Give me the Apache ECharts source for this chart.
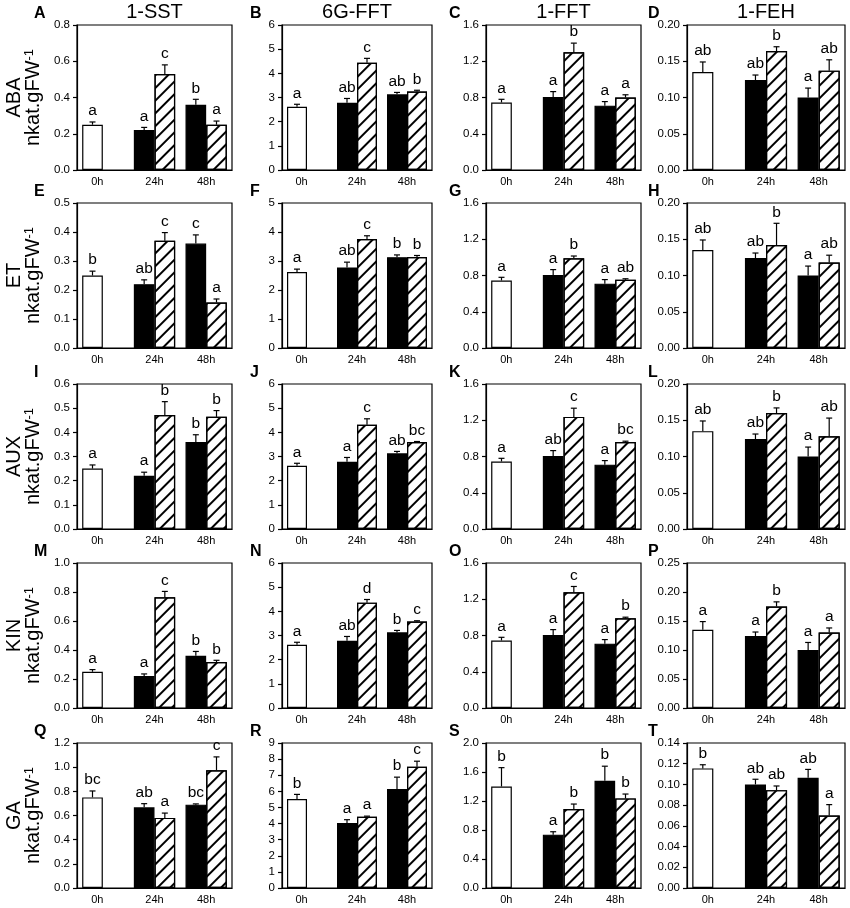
<!DOCTYPE html>
<html>
<head>
<meta charset="utf-8">
<title>Hormones and fructan enzymes</title>
<script src="https://cdn.jsdelivr.net/npm/echarts@6/dist/echarts.min.js"></script>
<style>
    html, body { margin: 0; padding: 0; background: #fff; }
    #chart { width: 850px; height: 908px; }
</style>
</head>
<body>
<div id="chart"></div>
<script>
var categories = ['0h', '24h', '48h'];
var enzymes = ['1-SST', '6G-FFT', '1-FFT', '1-FEH'];
var hormones = ['ABA', 'ET', 'AUX', 'KIN', 'GA'];
var panelTags = ['A', 'B', 'C', 'D', 'E', 'F', 'G', 'H', 'I', 'J', 'K', 'L', 'M', 'N', 'O', 'P', 'Q', 'R', 'S', 'T'];

// bar order in each panel: 0h control, 24h black, 24h hatched, 48h black, 48h hatched
var abaMean = [[0.25, 0.22, 0.53, 0.36, 0.25], [2.62, 2.78, 4.44, 3.13, 3.25], [0.745, 0.805, 1.30, 0.71, 0.80], [0.135, 0.124, 0.164, 0.10, 0.137]];
var abaErr = [[0.015, 0.015, 0.05, 0.03, 0.02], [0.1, 0.18, 0.18, 0.08, 0.05], [0.035, 0.06, 0.10, 0.045, 0.03], [0.014, 0.007, 0.006, 0.013, 0.015]];
var abaSig = [['a', 'a', 'c', 'b', 'a'], ['a', 'ab', 'c', 'ab', 'b'], ['a', 'a', 'b', 'a', 'a'], ['ab', 'ab', 'b', 'a', 'ab']];

var etMean = [[0.25, 0.22, 0.37, 0.36, 0.157], [2.62, 2.78, 3.76, 3.13, 3.14], [0.745, 0.805, 0.99, 0.71, 0.752], [0.135, 0.124, 0.142, 0.10, 0.118]];
var etErr = [[0.015, 0.015, 0.028, 0.03, 0.012], [0.1, 0.18, 0.11, 0.08, 0.05], [0.035, 0.06, 0.025, 0.045, 0.012], [0.014, 0.007, 0.03, 0.013, 0.01]];
var etSig = [['b', 'ab', 'c', 'c', 'a'], ['a', 'ab', 'c', 'b', 'b'], ['a', 'a', 'b', 'a', 'ab'], ['ab', 'ab', 'b', 'a', 'ab']];

var auxMean = [[0.25, 0.22, 0.472, 0.36, 0.464], [2.62, 2.78, 4.31, 3.13, 3.60], [0.745, 0.805, 1.237, 0.71, 0.959], [0.135, 0.124, 0.160, 0.10, 0.128]];
var auxErr = [[0.015, 0.015, 0.055, 0.03, 0.026], [0.1, 0.18, 0.25, 0.08, 0.02], [0.035, 0.06, 0.096, 0.045, 0.01], [0.014, 0.007, 0.007, 0.013, 0.025]];
var auxSig = [['a', 'a', 'b', 'b', 'b'], ['a', 'a', 'c', 'ab', 'bc'], ['a', 'ab', 'c', 'a', 'bc'], ['ab', 'ab', 'b', 'a', 'ab']];

var kinMean = [[0.25, 0.22, 0.764, 0.36, 0.317], [2.62, 2.78, 4.36, 3.13, 3.58], [0.745, 0.805, 1.278, 0.71, 0.99], [0.135, 0.124, 0.175, 0.10, 0.130]];
var kinErr = [[0.015, 0.015, 0.04, 0.03, 0.012], [0.1, 0.18, 0.13, 0.08, 0.03], [0.035, 0.06, 0.063, 0.045, 0.012], [0.014, 0.007, 0.008, 0.013, 0.008]];
var kinSig = [['a', 'a', 'c', 'b', 'b'], ['a', 'ab', 'd', 'b', 'c'], ['a', 'a', 'c', 'a', 'b'], ['a', 'a', 'b', 'a', 'a']];

var gaMean = [[0.75, 0.668, 0.58, 0.69, 0.975], [5.52, 4.04, 4.42, 6.15, 7.52], [1.40, 0.736, 1.088, 1.48, 1.236], [0.1155, 0.100, 0.0945, 0.1065, 0.070]];
var gaErr = [[0.053, 0.03, 0.04, 0.006, 0.11], [0.29, 0.2, 0.04, 0.73, 0.35], [0.26, 0.04, 0.07, 0.2, 0.06], [0.0035, 0.005, 0.004, 0.008, 0.0105]];
var gaSig = [['bc', 'ab', 'a', 'bc', 'c'], ['b', 'a', 'a', 'b', 'c'], ['b', 'a', 'b', 'b', 'b'], ['b', 'ab', 'ab', 'ab', 'a']];

var yMax = [[0.8, 6, 1.6, 0.2], [0.5, 5, 1.6, 0.2], [0.6, 6, 1.6, 0.2], [1.0, 6, 1.6, 0.25], [1.2, 9, 2.0, 0.14]];
var yStep = [[0.2, 1, 0.4, 0.05], [0.1, 1, 0.4, 0.05], [0.1, 1, 0.4, 0.05], [0.2, 1, 0.4, 0.05], [0.2, 1, 0.4, 0.02]];
var yDigits = [1, 0, 1, 2];

var means = [abaMean, etMean, auxMean, kinMean, gaMean];
var errs = [abaErr, etErr, auxErr, kinErr, gaErr];
var sigs = [abaSig, etSig, auxSig, kinSig, gaSig];

var FONT = '"Liberation Sans", Arial, sans-serif';
var colLeft = [77, 282, 486, 687];
var colWidth = [155, 150, 155, 158];
var rowTop = [25, 203, 384, 563, 743];
var plotH = 145;
var tagX = [41, 257, 456, 655];
// which half of the category each bar sits in
var sides = [-1, -1, 1, -1, 1];
var catOf = [0, 1, 1, 2, 2];

var black = { color: '#000', width: 1.2 };

function errRender(sig) {
    return function (params, api) {
        var i = params.dataIndex;
        var item = [api.value(0), api.value(1)];
        var band = api.size([1, 0], item)[0];
        var base = api.coord(item);
        var top = api.coord([api.value(0), api.value(1) + api.value(2)]);
        var x = base[0] + sides[i] * band * 0.2;
        return {
            type: 'group',
            children: [{
                type: 'line',
                shape: { x1: x, y1: base[1], x2: x, y2: top[1] },
                style: { stroke: '#000', lineWidth: 1.2 }
            }, {
                type: 'line',
                shape: { x1: x - 3, y1: top[1], x2: x + 3, y2: top[1] },
                style: { stroke: '#000', lineWidth: 1.2 }
            }, {
                type: 'text',
                x: x,
                y: top[1] - 3,
                style: {
                    text: sig[i], fill: '#000', fontSize: 15.5, fontFamily: FONT,
                    align: 'center', verticalAlign: 'bottom',
                    textAlign: 'center', textVerticalAlign: 'bottom'
                }
            }]
        };
    };
}

var grids = [], xAxes = [], yAxes = [], series = [], graphics = [];

for (var r = 0; r < hormones.length; r++) {
    for (var c = 0; c < enzymes.length; c++) {
        var k = r * 4 + c;
        var m = means[r][c], e = errs[r][c];
        var digits = yDigits[c];
        grids.push({
            left: colLeft[c], top: rowTop[r], width: colWidth[c], height: plotH,
            show: true, borderColor: '#000', borderWidth: 1.2, containLabel: false
        });
        xAxes.push({
            gridIndex: k, type: 'category', data: categories,
            axisLine: { lineStyle: black }, axisTick: { show: false },
            axisLabel: {
                color: '#000', fontSize: 11, fontFamily: FONT, margin: 6,
                formatter: function (v, idx) { return idx === 0 ? '{p|' + v + '}' : v; },
                rich: { p: { fontSize: 11, fontFamily: FONT, color: '#000', padding: [0, 11, 0, 0] } }
            }
        });
        yAxes.push({
            gridIndex: k, type: 'value', min: 0, max: yMax[r][c], interval: yStep[r][c],
            splitLine: { show: false },
            axisLine: { show: true, lineStyle: black },
            axisTick: { show: true, length: 4, lineStyle: black },
            axisLabel: {
                color: '#000', fontSize: 11.5, fontFamily: FONT, margin: 7,
                formatter: (function (d) { return function (v) { return v.toFixed(d); }; })(digits)
            }
        });
        series.push({
            type: 'bar', xAxisIndex: k, yAxisIndex: k, barWidth: '40%', barGap: '0%', silent: true,
            itemStyle: { color: '#000', borderColor: '#000', borderWidth: 1.2 },
            data: [{ value: m[0], itemStyle: { color: '#fff' } }, m[1], m[3]]
        });
        series.push({
            type: 'bar', xAxisIndex: k, yAxisIndex: k, barWidth: '40%', barGap: '0%', silent: true,
            itemStyle: {
                color: '#fff', borderColor: '#000', borderWidth: 1.2,
                decal: {
                    symbol: 'rect', symbolSize: 1, color: '#000',
                    dashArrayX: [1, 0], dashArrayY: [1.1, 6.2], rotation: -Math.PI / 4
                }
            },
            data: ['-', m[2], m[4]]
        });
        series.push({
            type: 'custom', xAxisIndex: k, yAxisIndex: k, z: 5, silent: true, clip: false,
            renderItem: errRender(sigs[r][c]),
            data: m.map(function (v, i) { return [catOf[i], v, e[i]]; })
        });
        graphics.push({
            type: 'text', left: tagX[c] - 7, top: rowTop[r] - 19,
            style: { text: panelTags[k], fill: '#000', font: 'bold 16px ' + FONT }
        });
    }
    var mid = rowTop[r] + plotH / 2;
    graphics.push({
        type: 'text', x: 14.5, y: mid, rotation: Math.PI / 2,
        style: {
            text: hormones[r], fill: '#000', fontSize: 20, fontFamily: FONT,
            align: 'center', verticalAlign: 'middle', textAlign: 'center', textVerticalAlign: 'middle'
        }
    });
    graphics.push({
        type: 'text', x: 33.5, y: mid, rotation: Math.PI / 2,
        style: {
            text: '{u|nkat.gFW}{s|-1}', fill: '#000',
            align: 'center', verticalAlign: 'middle', textAlign: 'center', textVerticalAlign: 'middle',
            rich: {
                u: { fontSize: 20, fontFamily: FONT, lineHeight: 22, fill: '#000' },
                s: { fontSize: 13, fontFamily: FONT, lineHeight: 22, verticalAlign: 'top', fill: '#000' }
            }
        }
    });
}

for (var c2 = 0; c2 < enzymes.length; c2++) {
    graphics.push({
        type: 'text', x: colLeft[c2] + colWidth[c2] / 2, y: 12,
        style: {
            text: enzymes[c2], fill: '#000', fontSize: 20, fontFamily: FONT,
            align: 'center', verticalAlign: 'middle', textAlign: 'center', textVerticalAlign: 'middle'
        }
    });
}

var chart = echarts.init(document.getElementById('chart'), null, { renderer: 'canvas' });
chart.setOption({
    animation: false,
    backgroundColor: '#fff',
    grid: grids,
    xAxis: xAxes,
    yAxis: yAxes,
    series: series,
    graphic: graphics
});
</script>
</body>
</html>
